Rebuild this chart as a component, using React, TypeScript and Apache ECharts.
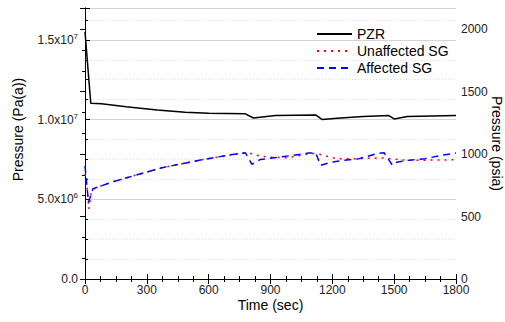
import React, { useEffect, useRef } from "react";
import * as echarts from "echarts";

// ---- data ----
const pzrTime = [0, 28, 80, 200, 350, 486, 600, 778, 817, 924, 1119, 1151, 1224, 1350, 1474, 1500, 1564, 1800];
const pzrPa = [1.55e7, 1.102e7, 1.1e7, 1.08e7, 1.06e7, 1.046e7, 1.04e7, 1.036e7, 1.01e7, 1.025e7, 1.029e7, 1.0e7, 1.008e7, 1.02e7, 1.025e7, 1.004e7, 1.02e7, 1.025e7];

const unaffTime = [0, 8, 19, 30, 49, 130, 227, 373, 567, 762, 810, 851, 890, 981, 1061, 1110, 1143, 1224, 1330, 1450, 1490, 1564, 1680, 1800];
const unaffPa = [6.6e6, 6.0e6, 4.4e6, 5.4e6, 5.7e6, 6.08e6, 6.44e6, 6.98e6, 7.48e6, 7.9e6, 7.86e6, 7.7e6, 7.65e6, 7.6e6, 7.79e6, 7.87e6, 7.81e6, 7.54e6, 7.55e6, 7.6e6, 7.54e6, 7.44e6, 7.46e6, 7.48e6];

const affTime = [0, 8, 17, 39, 60, 130, 227, 373, 567, 700, 778, 810, 851, 948, 1085, 1119, 1143, 1200, 1260, 1330, 1420, 1451, 1492, 1516, 1564, 1650, 1727, 1800];
const affPa = [7.1e6, 6.0e6, 4.83e6, 5.67e6, 5.75e6, 6.08e6, 6.44e6, 6.98e6, 7.48e6, 7.78e6, 7.92e6, 7.19e6, 7.5e6, 7.65e6, 7.9e6, 7.92e6, 7.13e6, 7.34e6, 7.45e6, 7.55e6, 7.88e6, 7.92e6, 7.13e6, 7.34e6, 7.44e6, 7.55e6, 7.75e6, 7.9e6];

const seriesNames = ["PZR", "Unaffected SG", "Affected SG"];
const xTicks = [0, 300, 600, 900, 1200, 1500, 1800];
const leftTickLabels: Record<number, string> = {
  0: "0.0",
  5000000: "5.0x10{sup|6}",
  10000000: "1.0x10{sup|7}",
  15000000: "1.5x10{sup|7}",
};
const rightTicks = [0, 500, 1000, 1500, 2000];

const FONT = "Liberation Sans, Arial, sans-serif";

export default function App() {
  const ref = useRef<HTMLDivElement>(null);
  useEffect(() => {
    if (!ref.current) return;
    const chart = echarts.init(ref.current, undefined, { renderer: "svg" });
    const pair = (t: number[], v: number[]) => t.map((x, i) => [x, v[i]]);
    const tickStyle = { show: true, inside: true, length: 5, lineStyle: { color: "#000" } };
    const minorStyle = { show: true, splitNumber: 4, length: 3, lineStyle: { color: "#000" } };
    chart.setOption({
      animation: false,
      textStyle: { fontFamily: FONT },
      grid: { left: 85, right: 49, top: 8, bottom: 43, outerBoundsMode: "none", containLabel: false },
      legend: {
        orient: "vertical",
        left: 311,
        top: 22,
        itemWidth: 35,
        itemHeight: 14,
        itemGap: 3,
        data: seriesNames,
        itemStyle: { opacity: 0 },
        textStyle: { fontSize: 14, color: "#000", fontFamily: FONT },
      },
      xAxis: [
        {
          type: "value",
          position: "bottom",
          min: xTicks[0],
          max: xTicks[xTicks.length - 1],
          interval: 300,
          name: "Time (sec)",
          nameLocation: "middle",
          nameGap: 19,
          nameMoveOverlap: false,
          nameTextStyle: { fontSize: 14, color: "#000", fontFamily: FONT },
          axisLine: { show: true, lineStyle: { color: "#000", width: 1 } },
          axisTick: tickStyle,
          minorTick: minorStyle,
          axisLabel: {
            fontSize: 12,
            color: "#222",
            margin: 5,
            fontFamily: FONT,
            formatter: (v: number) => (xTicks.includes(v) ? String(v) : ""),
          },
          splitLine: { show: false },
        },
        {
          type: "value",
          position: "top",
          min: 0,
          max: 1800,
          interval: 300,
          axisLine: { show: true, lineStyle: { color: "#000", width: 1 } },
          axisTick: tickStyle,
          minorTick: minorStyle,
          axisLabel: { show: false },
          splitLine: { show: false },
        },
      ],
      yAxis: [
        {
          type: "value",
          position: "left",
          min: 0,
          max: 1.7e7,
          interval: 5e6,
          name: "Pressure (Pa(a))",
          nameLocation: "middle",
          nameGap: 60,
          nameMoveOverlap: false,
          nameTextStyle: { fontSize: 14, color: "#000", fontFamily: FONT, padding: [0, 0, 0, 28] },
          axisLine: { show: true, lineStyle: { color: "#000", width: 1 } },
          axisTick: tickStyle,
          minorTick: minorStyle,
          axisLabel: {
            fontSize: 12,
            color: "#222",
            margin: 7,
            fontFamily: FONT,
            formatter: (v: number) => leftTickLabels[v] ?? "",
            rich: {
              sup: { fontSize: 8, color: "#222", padding: [0, 0, 7, 0], fontFamily: FONT },
            },
          },
          splitLine: { show: true, lineStyle: { color: "#d4d4d4", width: 1 } },
          minorSplitLine: { show: true, lineStyle: { color: "#dcdcdc", type: [1, 2], width: 1 } },
        },
        {
          type: "value",
          position: "right",
          min: 0,
          max: 2170,
          interval: 500,
          name: "Pressure (psia)",
          nameLocation: "middle",
          nameGap: 34,
          nameMoveOverlap: false,
          nameRotate: -90,
          nameTextStyle: { fontSize: 14, color: "#000", fontFamily: FONT },
          axisLine: { show: true, lineStyle: { color: "#000", width: 1 } },
          axisTick: tickStyle,
          minorTick: { ...minorStyle, splitNumber: 3 },
          axisLabel: {
            fontSize: 12,
            color: "#222",
            margin: 5,
            fontFamily: FONT,
            showMaxLabel: false,
            formatter: (v: number) => (rightTicks.includes(v) ? String(v) : ""),
          },
          splitLine: { show: false },
        },
      ],
      series: [
        {
          name: seriesNames[0],
          type: "line",
          data: pair(pzrTime, pzrPa),
          showSymbol: false,
          symbol: "none",
          lineStyle: { color: "#000", width: 1.5 },
          itemStyle: { color: "#000" },
          z: 3,
        },
        {
          name: seriesNames[1],
          type: "line",
          data: pair(unaffTime, unaffPa),
          showSymbol: false,
          symbol: "none",
          lineStyle: { color: "#ff0000", width: 1.5, type: [2, 5] },
          itemStyle: { color: "#ff0000" },
          z: 4,
        },
        {
          name: seriesNames[2],
          type: "line",
          data: pair(affTime, affPa),
          showSymbol: false,
          symbol: "none",
          lineStyle: { color: "#0000ff", width: 1.5, type: [7, 5] },
          itemStyle: { color: "#0000ff" },
          z: 5,
        },
      ],
    });
    return () => chart.dispose();
  }, []);
  return <div ref={ref} style={{ width: 505, height: 322, position: "absolute", left: 0, top: 0 }} />;
}
